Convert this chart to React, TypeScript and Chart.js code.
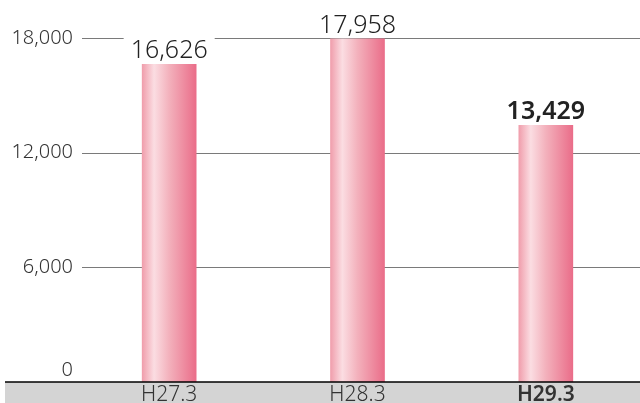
import React, { useEffect, useRef } from "react";
import { Chart, registerables } from "chart.js";

Chart.register(...registerables);

const categories = ["H27.3", "H28.3", "H29.3"];
const values = [16626, 17958, 13429];
const yTicks = [0, 6000, 12000, 18000];
const highlightIndex = 2;

const FONT = "'Noto Sans', 'DejaVu Sans', sans-serif";

const fmt = (v: number) => v.toLocaleString("en-US");

const bandPlugin = {
  id: "band",
  beforeDraw(chart: any) {
    const { ctx, chartArea } = chart;
    ctx.save();
    ctx.fillStyle = "#d4d4d4";
    ctx.fillRect(5, chartArea.bottom, chart.width - 5, chart.height - chartArea.bottom);
    ctx.restore();
  },
  beforeDatasetsDraw(chart: any) {
    const { ctx, chartArea, scales } = chart;
    ctx.save();
    ctx.strokeStyle = "#7a7a7a";
    ctx.lineWidth = 1;
    yTicks.forEach((t) => {
      if (t === 0) return;
      const y = Math.round(scales.y.getPixelForValue(t)) + 0.5;
      ctx.beginPath();
      ctx.moveTo(82, y);
      ctx.lineTo(chartArea.right, y);
      ctx.stroke();
    });
    ctx.restore();
  },
  afterDatasetsDraw(chart: any) {
    const { ctx, chartArea } = chart;
    ctx.save();
    ctx.strokeStyle = "#000";
    ctx.lineWidth = 1.5;
    ctx.beginPath();
    ctx.moveTo(5, chartArea.bottom);
    ctx.lineTo(chart.width, chartArea.bottom);
    ctx.stroke();

    const meta = chart.getDatasetMeta(0);
    meta.data.forEach((el: any, i: number) => {
      const text = fmt(values[i]);
      ctx.font = `${i === highlightIndex ? "600" : "300"} 25px ${FONT}`;
      const w = ctx.measureText(text).width;
      const base = el.y - 6;
      ctx.fillStyle = "#fff";
      ctx.fillRect(el.x - w / 2 - 7, base - 24, w + 14, 28);
      ctx.fillStyle = "#222";
      ctx.textAlign = "center";
      ctx.textBaseline = "alphabetic";
      ctx.fillText(text, el.x, base);
    });
    ctx.restore();
  },
};

export default function App() {
  const ref = useRef<HTMLCanvasElement>(null);

  useEffect(() => {
    document.body.style.margin = "0";
    if (!ref.current) return;
    const chart = new Chart(ref.current, {
      type: "bar",
      data: {
        labels: categories,
        datasets: [
          {
            data: values,
            barThickness: 54,
            borderWidth: 0,
            backgroundColor: (c: any) => {
              const ch = c.chart;
              if (!ch.chartArea || c.type !== "data" || !ch.scales.x) return "#f1a0ae";
              const x = ch.scales.x.getPixelForValue(c.dataIndex);
              const g = ch.ctx.createLinearGradient(x - 27, 0, x + 27, 0);
              g.addColorStop(0, "#f09eac");
              g.addColorStop(0.22, "#fbdde2");
              g.addColorStop(0.5, "#f3b1bc");
              g.addColorStop(1, "#ea6d89");
              return g;
            },
          },
        ],
      },
      options: {
        responsive: false,
        animation: false,
        devicePixelRatio: 1,
        layout: { padding: { top: 38, right: 0, left: 0, bottom: 0 } },
        plugins: { legend: { display: false }, tooltip: { enabled: false } },
        scales: {
          x: {
            grid: { display: false, drawTicks: false },
            border: { display: false },
            afterFit: (s: any) => {
              s.height = 21;
              s.paddingLeft = 0;
              s.paddingRight = 0;
            },
            ticks: {
              padding: 0,
              color: "#333",
              font: (c: any) => ({
                family: FONT,
                size: 21,
                weight: c.index === highlightIndex ? "600" : "300",
              }),
            },
          },
          y: {
            min: 0,
            max: 18000,
            grid: { display: false, drawTicks: false },
            border: { display: false },
            afterFit: (s: any) => {
              s.width = 75;
              s.paddingTop = 0;
              s.paddingBottom = 0;
            },
            afterBuildTicks: (s: any) => {
              s.ticks = yTicks.map((v) => ({ value: v }));
            },
            ticks: {
              padding: 2,
              color: "#333",
              font: { family: FONT, size: 20, weight: "300" },
              callback: (v: any) => (Number(v) === 0 ? ["0", ""] : fmt(Number(v))),
            },
          },
        },
      },
      plugins: [bandPlugin],
    });
    return () => chart.destroy();
  }, []);

  return <canvas ref={ref} width={640} height={403} style={{ display: "block" }} />;
}
